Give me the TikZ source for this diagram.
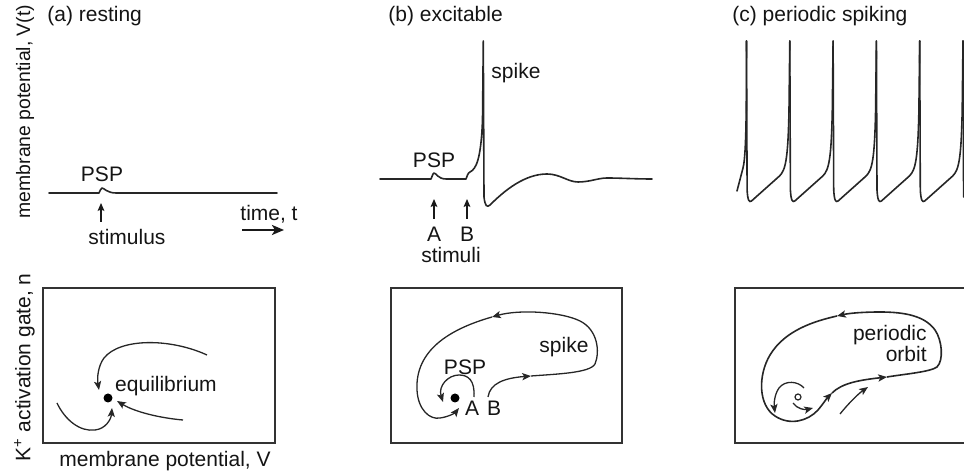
\documentclass[tikz,border=0pt]{standalone}
\usepackage{fontspec}
\setmainfont{Liberation Sans}
\usetikzlibrary{arrows.meta}
\begin{document}
\begin{tikzpicture}[x=0.5pt,y=-0.5pt,
  lab/.style={font=\fontsize{10.5}{12}\selectfont, inner sep=0pt, anchor=base, text=black!92},
  trace/.style={line width=0.8pt, line join=round, line cap=round, draw=black!85},
  traj/.style={line width=0.65pt, draw=black!85},
  tip/.style={-{Stealth[length=4.4pt,width=3.6pt,inset=1pt]}},
  stim/.style={line width=0.6pt, draw=black!90, -{Stealth[length=4pt,width=3.4pt,inset=0.8pt]}},
  frame/.style={line width=1pt, draw=black!80}]
\useasboundingbox (0,0) rectangle (964,474);

% ---- axis labels ----
\node[lab, rotate=90, font=\fontsize{9.7}{11}\selectfont] (ylabV) at (30,111.5) {membrane potential, V(t)};
\node[lab, rotate=90] (ylabn) at (30.5,367.5) {K\textsuperscript{+} activation gate, n};
\node[lab] (xlabV) at (165,467) {membrane potential, V};

% ---- titles ----
\node[lab, anchor=base west] (ta) at (47,22) {(a) resting};
\node[lab, anchor=base west] (tb) at (388,22) {(b) excitable};
\node[lab, anchor=base west] (tc) at (732,22) {(c) periodic spiking};

% ---- (a) top trace ----
\draw[trace] (49,193) -- (99,193) .. controls (100,191) and (101,188) .. (102,188)
  .. controls (104,188) and (107,193) .. (116,193) -- (277,193);
\node[lab] (pspa) at (102,182) {PSP};
\coordinate (sa0) at (101,222);
\coordinate (sa1) at (101,203);
\draw[stim] (sa0) -- (sa1);
\node[lab] (stimulus) at (127,245) {stimulus};
\node[lab] (time) at (269,221) {time, t};
\coordinate (t0) at (242,230);
\coordinate (t1) at (284,230);
\draw[line width=1.2pt, draw=black!90, -{Stealth[length=6pt,width=5pt,inset=1.5pt]}] (t0) -- (t1);

% ---- (b) top trace ----
\draw[trace] (380,179) -- (431,179) .. controls (432,177) and (433,173) .. (434,173)
  .. controls (436,173) and (438,179) .. (446,179) -- (466,179)
  .. controls (467,177) and (467.5,173) .. (470,172)
  .. controls (476,169) and (481,160) .. (482.5,120) -- (483.3,41) -- (484,197)
  .. controls (485,206) and (487,208) .. (490,205)
  .. controls (505,190) and (525,174) .. (547,174)
  .. controls (560,174) and (568,182) .. (578,182)
  .. controls (590,182) and (598,178) .. (607,178)
  .. controls (620,178) and (635,179) .. (652,179);
\node[lab] (pspb) at (434,168) {PSP};
\node[lab] (spikeb) at (516,79) {spike};
\coordinate (sA0) at (434,219);
\coordinate (sA1) at (434,199);
\coordinate (sB0) at (467,219);
\coordinate (sB1) at (467,199);
\draw[stim] (sA0) -- (sA1);
\draw[stim] (sB0) -- (sB1);
\node[lab] (Atop) at (434,242) {A};
\node[lab] (Btop) at (467,242) {B};
\node[lab] (stimuli) at (451,263) {stimuli};

% ---- (c) top trace ----
\draw[trace] (737,191) -- (743,168) .. controls (745,160) and (746,140) .. (746.3,100) -- (746.5,41);
\foreach \s in {746.5,789.8,833.1,876.4,919.7}{
  \draw[trace] (\s,41) -- (\s+0.6,190) .. controls (\s+1.2,200) and (\s+2.5,203) .. (\s+5,201)
    -- (\s+33,176) .. controls (\s+39,170) and (\s+41.5,160) .. (\s+42.5,110) -- (\s+43.3,41);
}
\draw[trace] (963,41) -- (963.6,197);

% ---- (a) phase plane ----
\draw[frame] (43,288) rectangle (275,443);
\fill[black] (108,398) circle[radius=4.5];
\node[lab] (equil) at (166,392) {equilibrium};
\draw[traj, tip] (207,355) .. controls (170,338) and (120,338) .. (104,358)
  .. controls (98,366) and (97,378) .. (99,390);
\draw[traj, tip] (183,420) .. controls (160,418) and (135,412) .. (117,401);
\draw[traj, tip] (57,403) .. controls (65,420) and (80,432) .. (95,430)
  .. controls (105,429) and (111,420) .. (112,408);

% ---- (b) phase plane ----
\draw[frame] (391,288) rectangle (622,443);
\fill[black] (455,398) circle[radius=4.5];
\node[lab] (pspbb) at (465,375) {PSP};
\node[lab] (Abot) at (472,416) {A};
\node[lab] (Bbot) at (494,416) {B};
\node[lab] (spikebb) at (564,353) {spike};
\draw[traj, tip] (474,397) .. controls (475,380) and (468,375) .. (459,375)
  .. controls (448,375) and (438,386) .. (443,402);
\draw[traj, tip] (488,397) .. controls (490,383) and (505,378) .. (531,376);
\draw[traj, tip] (531,376) .. controls (557,374) and (590,373) .. (595,364)
  .. controls (600,352) and (598,330) .. (580,321)
  .. controls (562,312) and (520,309) .. (492,317);
\draw[traj, tip] (492,317) .. controls (450,329) and (415,350) .. (417,390)
  .. controls (418,410) and (430,420) .. (440,418)
  .. controls (448,417) and (455,413) .. (459,408);

% ---- (c) phase plane ----
\draw[frame] (964,288) -- (735,288) -- (735,443) -- (964,443);
\node[lab, anchor=base east] (periodic) at (927,341) {periodic};
\node[lab, anchor=base east] (orbit) at (927,362) {orbit};
\draw[traj, line width=0.8pt, tip] (887,377) .. controls (905,374) and (930,372) .. (937,367)
  .. controls (944,360) and (942,340) .. (935,330)
  .. controls (925,316) and (905,312) .. (880,312)
  .. controls (865,312) and (850,313) .. (837,316);
\draw[traj, line width=0.8pt, tip] (837,316) .. controls (815,321) and (785,330) .. (770,355)
  .. controls (758,375) and (758,405) .. (775,416)
  .. controls (790,426) and (808,421) .. (818,410)
  .. controls (823,404) and (827,398) .. (832,393);
\draw[traj, line width=0.8pt, tip] (832,393) .. controls (842,383) and (860,380) .. (887,377);
\draw[traj, line width=0.6pt] (798,397) circle[radius=3];
\draw[traj, tip] (804,388) .. controls (798,381) and (785,380) .. (779,388)
  .. controls (774,395) and (774,405) .. (775,413);
\draw[traj, tip] (793,403) .. controls (797,409) and (805,410) .. (813,408);
\draw[traj, tip] (840,414) .. controls (848,404) and (858,394) .. (868,387);
\end{tikzpicture}
\end{document}
